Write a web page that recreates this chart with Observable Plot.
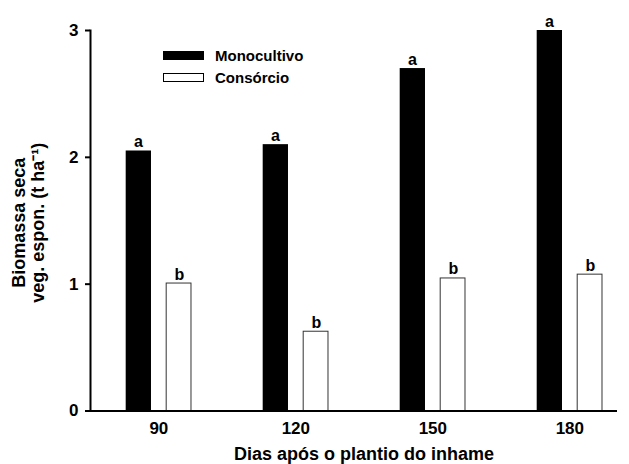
<!DOCTYPE html>
<html><head><meta charset="utf-8">
<script src="https://cdn.jsdelivr.net/npm/d3@7"></script>
<script src="https://cdn.jsdelivr.net/npm/@observablehq/plot@0.6"></script>
<style>
body{margin:0;background:#fff;font-family:"Liberation Sans",Arial,sans-serif;}
#wrap{position:relative;width:629px;height:464px;}
#legend{position:absolute;left:163px;top:44.5px;font-weight:bold;font-size:15px;color:#000;}
.row{display:flex;align-items:center;height:22px;}
.sw{width:41px;height:9px;box-sizing:border-box;margin-right:11px;}
</style></head><body><div id="wrap"><div id="legend"></div></div>
<script>
const days = ["90","120","150","180"];
const monocultivo = [2.05, 2.10, 2.70, 3.00];
const consorcio = [1.005, 0.625, 1.045, 1.075];
const letrasMono = ["a","a","a","a"];
const letrasCons = ["b","b","b","b"];
const seriesNames = ["Monocultivo","Consórcio"];
const seriesFill = ["#000","#fff"];
const yTicks = [0,1,2,3];
const xLabel = "Dias após o plantio do inhame";
const yLabel = "Biomassa seca\nveg. espon. (t ha⁻¹)";

const mono = days.map((d,i)=>({day:d, value:monocultivo[i], letter:letrasMono[i]}));
const cons = days.map((d,i)=>({day:d, value:consorcio[i], letter:letrasCons[i]}));

const chart = Plot.plot({
  width:629, height:464, marginLeft:90, marginRight:12, marginTop:30, marginBottom:53.5,
  style:{fontFamily:"'Liberation Sans', Arial, sans-serif", fontWeight:"bold", color:"#000", background:"#fff", overflow:"visible"},
  x:{type:"band", domain:days, paddingInner:0.5234, paddingOuter:0.185, align:0.704, round:false, label:null},
  y:{domain:[0,3], label:null},
  marks:[
    Plot.barY(mono,{x:"day", y:"value", fill:"#000", insetRight:40}),
    Plot.barY(cons,{x:"day", y:"value", fill:"#fff", stroke:"#333", strokeWidth:1, insetLeft:40.5}),
    Plot.text(mono,{x:"day", y:"value", text:"letter", dx:-20.3, dy:-4, lineAnchor:"bottom", fontSize:16, fontWeight:"bold", fill:"#000"}),
    Plot.text(cons,{x:"day", y:"value", text:"letter", dx:20.5, dy:-4, lineAnchor:"bottom", fontSize:16, fontWeight:"bold", fill:"#000"}),
    Plot.axisX({tickSize:0, tickPadding:11, fontSize:17, fontWeight:"bold", label:null}),
    Plot.axisY({ticks:yTicks, tickSize:5, tickPadding:7, strokeWidth:2, fontSize:17, fontWeight:"bold", label:null, tickFormat:d=>String(d)}),
    Plot.frame({anchor:"left", strokeWidth:2}),
    Plot.ruleY([0], {strokeWidth:2}),
    Plot.text([xLabel], {text:d=>d, frameAnchor:"bottom", dy:48.5, dx:10, fontSize:18, fontWeight:"bold", fill:"#000"}),
    Plot.text([yLabel], {text:d=>d, frameAnchor:"left", textAnchor:"middle", rotate:-90, dx:-62, dy:2, fontSize:18, lineHeight:1.02, fontWeight:"bold", fill:"#000"})
  ]
});
document.getElementById("wrap").prepend(chart);

const legend = document.getElementById("legend");
seriesNames.forEach((name,i)=>{
  const row = document.createElement("div"); row.className="row";
  const sw = document.createElement("div"); sw.className="sw";
  sw.style.background = seriesFill[i]; sw.style.border = "1px solid #000";
  const t = document.createElement("span"); t.textContent = name;
  row.append(sw,t); legend.append(row);
});
</script></body></html>
